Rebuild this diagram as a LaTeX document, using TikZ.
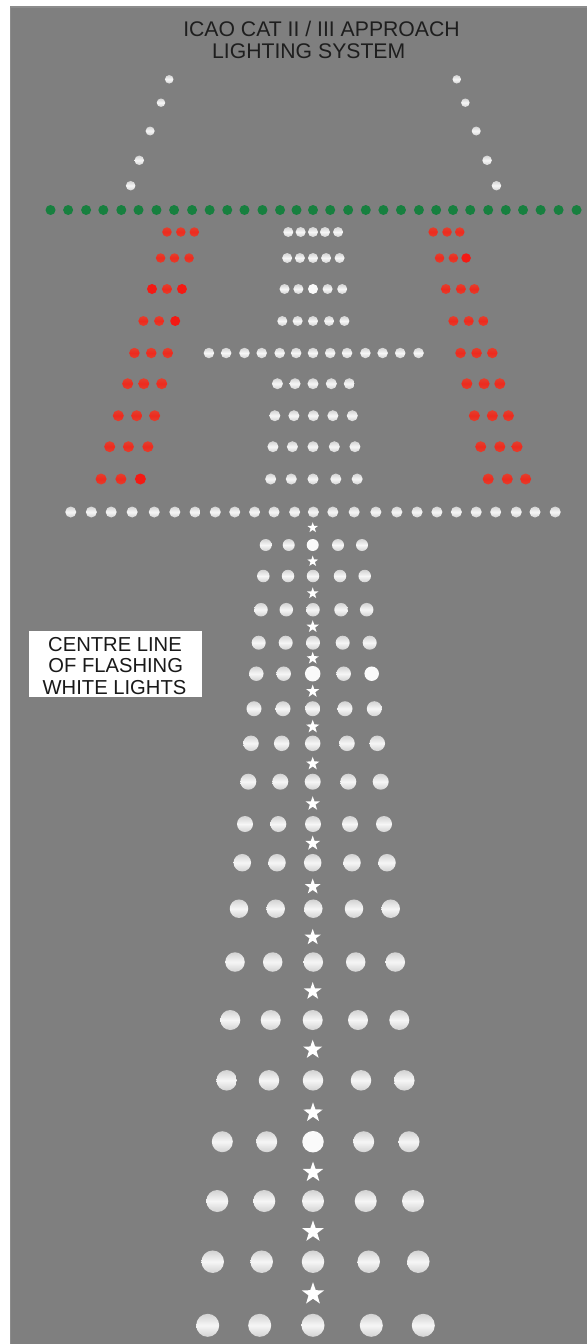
\documentclass[tikz,border=0pt]{standalone}
\usepackage{fontspec}
\setmainfont{Liberation Sans}
\usetikzlibrary{shapes.geometric}
\definecolor{bgrey}{HTML}{7F7F7F}
\definecolor{edgegrey}{HTML}{8C8C8C}
\definecolor{inktext}{HTML}{1E1E1E}
\definecolor{gl}{HTML}{17803F}
\definecolor{wedge}{HTML}{D2D2D2}
\definecolor{wmid}{HTML}{F6F6F6}
\definecolor{redge}{HTML}{E2402E}
\definecolor{rmid}{HTML}{EE2A1E}
\definecolor{rhot}{HTML}{F31A14}
\tikzset{
  lamp/.style={circle,inner sep=0pt,outer sep=0pt,draw=none},
  wlamp/.style={lamp,top color=wedge,bottom color=wedge,middle color=wmid},
  wbright/.style={lamp,fill=white!98!black},
  rlamp/.style={lamp,top color=redge,bottom color=redge,middle color=rmid},
  rbright/.style={lamp,fill=rhot},
  glamp/.style={lamp,fill=gl},
  flash/.style={star,star points=5,star point ratio=2.5,inner sep=0pt,outer sep=0pt,fill=white,draw=none},
  titletext/.style={text=inktext,font=\fontsize{21.2}{21.2}\selectfont,inner sep=0pt,anchor=base},
  boxtext/.style={text=black!90,font=\fontsize{20.2}{20.2}\selectfont,inner sep=0pt,anchor=base}
}
\newcommand\LampRow[4]{\foreach \xx in {#4}{\node[#1,minimum size=#3pt,name=n#2-\xx] at (\xx,#2) {};}}
\newcommand\Flash[3]{\node[flash,minimum size=#3pt,name=s#2] at (#1,#2) {};}
\begin{document}
\begin{tikzpicture}[x=1pt,y=-1pt]
\useasboundingbox (0,0) rectangle (587,1344);
\fill[white] (0,0) rectangle (587,1344);
\fill[edgegrey] (9.5,6) rectangle (587,1344);
\node[name=bg,rectangle,fill=bgrey,inner sep=0pt,outer sep=0pt,anchor=north west,minimum width=576pt,minimum height=1337pt] at (11,7.5) {};
\node[titletext,name=t1] at (321.5,36) {ICAO CAT II / III APPROACH};
\node[titletext,name=t2] at (308.7,58.5) {LIGHTING SYSTEM};
\node[name=box,rectangle,fill=white,inner sep=0pt,anchor=north west,minimum width=173pt,minimum height=66.5pt] at (29,630.7) {};
\node[boxtext,name=b1] at (115,651.7) {CENTRE LINE};
\node[boxtext,name=b2] at (115.7,672.8) {OF FLASHING};
\node[boxtext,name=b3] at (114.5,694) {WHITE LIGHTS};
% upper rows, x given in a 2.671 unit
\begin{scope}[x=0.37439pt]
\LampRow{wlamp}{79.3}{8.5}{452,1220}
\LampRow{wlamp}{102.7}{8.5}{430,1243}
\LampRow{wlamp}{131}{9}{401,1272}
\LampRow{wlamp}{160.3}{9.5}{372,1301}
\LampRow{wlamp}{185.7}{9.5}{349,1326}
\LampRow{glamp}{210}{10}{135,182,230,276,324,370,418,465,513,560,607,653,701,748,792,836,882,930,977,1024,1071,1119,1165,1210,1256,1304,1351,1397,1444,1492,1540}
\LampRow{rlamp}{232}{9.5}{446,483,519,1157,1194,1228}
\LampRow{wlamp}{232}{10}{770,803,836,868,903}
\LampRow{rlamp}{258}{9.5}{429,466,505,1174,1211}
\LampRow{rbright}{258}{9.5}{1245}
\LampRow{wlamp}{258}{10}{767,801,836,871,907}
\LampRow{rlamp}{289}{10}{446,1191,1231,1267}
\LampRow{rbright}{289}{10}{406,486}
\LampRow{wlamp}{289}{10}{760,797,875,914}
\LampRow{wbright}{289}{10}{836}
\LampRow{rlamp}{321}{10}{383,425,1211,1252,1291}
\LampRow{rbright}{321}{10}{468}
\LampRow{wlamp}{321}{10}{754,795,836,879,920}
\LampRow{rlamp}{353}{10.5}{359,404,448,1230,1273,1315}
\LampRow{wlamp}{353}{10.5}{558,604,653,699,747,791,836,882,927,976,1022,1069,1118}
\LampRow{rlamp}{383.7}{11}{341,384,432,1247,1293,1335}
\LampRow{wlamp}{383.7}{11}{741,788,836,885,933}
\LampRow{rlamp}{415.7}{11}{316,365,413,1267,1315,1358}
\LampRow{wlamp}{415.7}{11}{734,785,837,889,941}
\LampRow{rlamp}{446.7}{11}{293,343,395,1284,1335,1381}
\LampRow{wlamp}{446.7}{11}{729,781,836,893,948}
\LampRow{rlamp}{479}{11}{270,323,1304,1355,1404}
\LampRow{rbright}{479}{11}{375}
\LampRow{wlamp}{479}{11}{723,778,836,897,954}
\LampRow{wlamp}{512}{11}{189,244,297,353,412,467,521,575,627,680,732,787,837,889,946,1004,1060,1114,1167,1219,1272,1324,1379,1429,1483}
\end{scope}
% approach rows
\LampRow{wlamp}{545}{12}{265.7,288.7,338,362}
\LampRow{wbright}{545}{12}{312.7}
\LampRow{wlamp}{576}{12.5}{263.3,288,313,340,364.7}
\LampRow{wlamp}{609.7}{13.5}{261,286.3,313,341,366.7}
\LampRow{wlamp}{642.7}{14}{258.7,285.7,313,342.7,369.7}
\LampRow{wlamp}{673.7}{14.5}{256.3,283.7,343.7}
\LampRow{wbright}{673.7}{15.5}{312.7}
\LampRow{wbright}{673.7}{14.5}{371.7}
\LampRow{wlamp}{708.7}{15}{254,283,312.7,345,374.3}
\LampRow{wlamp}{743.3}{15.5}{251,281.7,312.7,347,377.3}
\LampRow{wlamp}{781.7}{16}{248.3,280.3,312.7,348.3,380.7}
\LampRow{wlamp}{824}{16}{245,278.3,313,350,384}
\LampRow{wlamp}{862.7}{17.5}{242.3,277,312.7,352,387}
\LampRow{wlamp}{908.7}{18.5}{239,275.7,313.3,354,390.7}
\LampRow{wlamp}{962}{19.5}{235,272.7,313.3,355.7,395.3}
\LampRow{wlamp}{1020}{20}{230.3,270.7,312.7,358,399.3}
\LampRow{wlamp}{1080.3}{20.5}{226.7,269,313,361,404.3}
\LampRow{wlamp}{1141.7}{21}{222.3,266.7,363.7,409}
\LampRow{wbright}{1141.7}{21.5}{313}
\LampRow{wlamp}{1201}{22}{217.3,264.3,313,365.7,413}
\LampRow{wlamp}{1261.7}{22.5}{212.7,261.7,313,368.7,418.3}
\LampRow{wlamp}{1325.3}{23}{207.7,259.7,313,371.3,423.3}
% flashing centre line
\Flash{312.7}{527.7}{11}
\Flash{312.7}{561.3}{11.5}
\Flash{312.7}{593.3}{12}
\Flash{312.7}{626.7}{13}
\Flash{312.7}{658.3}{13}
\Flash{312.7}{691.3}{13.5}
\Flash{312.7}{726.7}{14}
\Flash{312.7}{763.7}{14}
\Flash{312.7}{803.7}{15}
\Flash{312.7}{843.3}{15.5}
\Flash{312.7}{886.7}{16.5}
\Flash{312.7}{937.3}{17}
\Flash{312.7}{991.3}{18.5}
\Flash{312.7}{1049.7}{20}
\Flash{313}{1112.7}{20.5}
\Flash{313}{1172.3}{21.5}
\Flash{313}{1231.7}{22.5}
\Flash{313}{1294}{23.5}
\end{tikzpicture}
\end{document}
